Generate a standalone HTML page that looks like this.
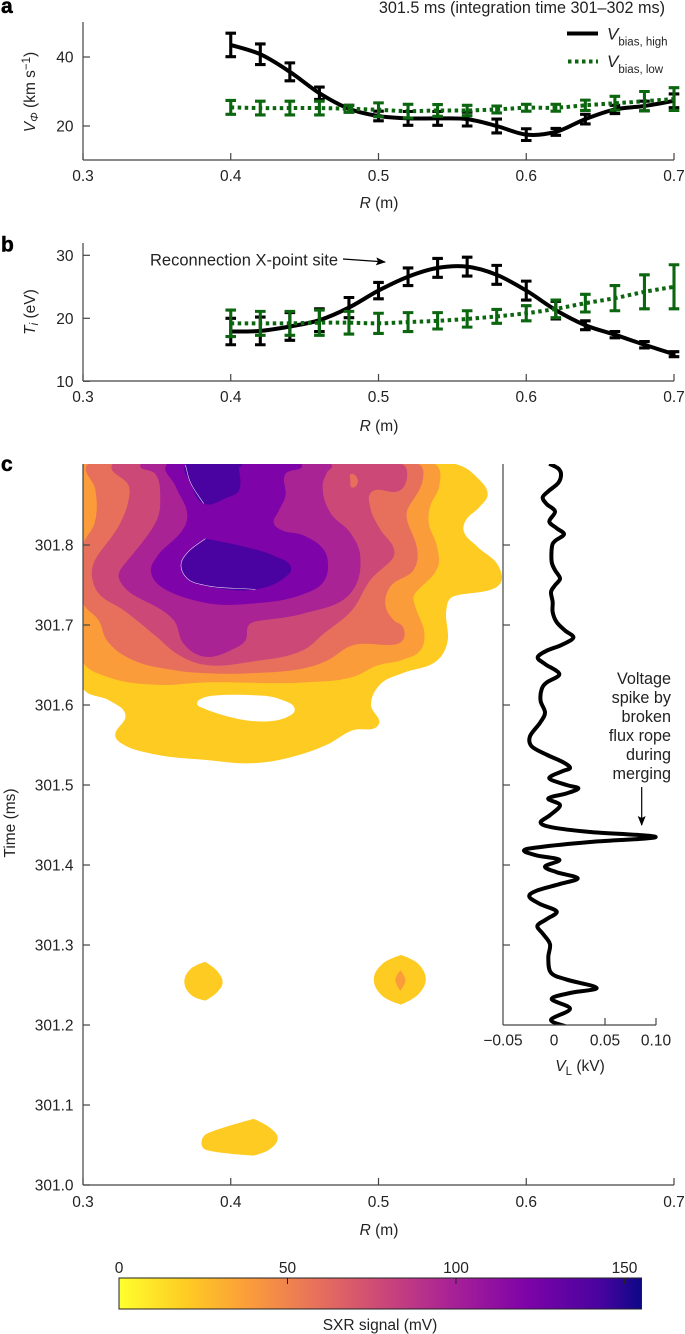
<!DOCTYPE html>
<html lang="en">
<head>
<meta charset="utf-8">
<title>Bias voltage profiles, SXR contour and loop voltage</title>
<style>
html,body{margin:0;padding:0;background:#fff;width:685px;height:1334px;overflow:hidden}
svg{display:block;font-family:"Liberation Sans",sans-serif;fill:#222}
text{font-size:15.5px}
.panel{font-size:21px;font-weight:bold;fill:#000;stroke:#000;stroke-width:.5px}
.big{font-size:16.2px}
.i{font-style:italic}
.sub{font-size:11.5px}
.v{font-size:17px;font-style:italic}
</style>
</head>
<body>
<svg id="root" xmlns="http://www.w3.org/2000/svg" width="685" height="1334" viewBox="0 0 685 1334">
  <defs>
    <linearGradient id="plasma" x1="0" x2="1" y1="0" y2="0">
      <stop offset="0" stop-color="#ffff2e"/>
      <stop offset="0.13" stop-color="#fecb23"/>
      <stop offset="0.25" stop-color="#fb9c3b"/>
      <stop offset="0.38" stop-color="#e7705c"/>
      <stop offset="0.5" stop-color="#cc4977"/>
      <stop offset="0.63" stop-color="#aa2395"/>
      <stop offset="0.78" stop-color="#7e03a8"/>
      <stop offset="0.92" stop-color="#4903a0"/>
      <stop offset="1" stop-color="#0d0887"/>
    </linearGradient>
    <clipPath id="clipC"><rect x="83" y="464" width="591" height="721"/></clipPath>
    <clipPath id="clipV"><rect x="503" y="464" width="182" height="561"/></clipPath>
    <marker id="arrowhead" markerWidth="10" markerHeight="8" refX="9" refY="4" orient="auto" markerUnits="userSpaceOnUse"><path d="M0 0L10 4L0 8L2 4Z" fill="#000"/></marker>
  </defs>

  <text class="panel" x="1" y="13">a</text>
  <text class="panel" x="1" y="251.5">b</text>
  <text class="panel" x="1" y="471">c</text>

  <text class="big" x="665" y="13" text-anchor="end">301.5 ms (integration time 301–302 ms)</text>

  <g id="panelC">
    <g id="contours" clip-path="url(#clipC)"></g>
  </g>
  <g id="panelV">
    <g id="voltageLine" clip-path="url(#clipV)"></g>
  </g>
  <g id="panelA"></g>
  <g id="panelB"></g>
  <g id="axes"></g>

  <text transform="translate(35,92) rotate(-90)" text-anchor="middle"><tspan class="i">V</tspan><tspan class="i sub" dy="3">Φ</tspan><tspan dy="-3"> (km s</tspan><tspan class="sub" dy="-5">−1</tspan><tspan dy="5">)</tspan></text>
  <text x="379" y="208" text-anchor="middle"><tspan class="i">R</tspan> (m)</text>

  <line x1="567" y1="33.5" x2="598" y2="33.5" stroke="#000" stroke-width="4"/>
  <text x="607" y="39.5"><tspan class="v">V</tspan><tspan class="sub" dy="6">bias, high</tspan></text>
  <line x1="568" y1="61.5" x2="598" y2="61.5" stroke="#0b660f" stroke-width="4" stroke-dasharray="3.5 3.5"/>
  <text x="607" y="67"><tspan class="v">V</tspan><tspan class="sub" dy="6">bias, low</tspan></text>

  <text transform="translate(35,312) rotate(-90)" text-anchor="middle"><tspan class="i">T</tspan><tspan class="i sub" dy="3">i</tspan><tspan dy="-3"> (eV)</tspan></text>
  <text x="379" y="431" text-anchor="middle"><tspan class="i">R</tspan> (m)</text>
  <text x="150" y="265.5" style="font-size:16.5px">Reconnection X-point site</text>
  <line x1="343" y1="259" x2="385" y2="262" stroke="#000" stroke-width="1.2" marker-end="url(#arrowhead)"/>

  <text transform="translate(15,823) rotate(-90)" text-anchor="middle">Time (ms)</text>
  <text x="379" y="1235" text-anchor="middle"><tspan class="i">R</tspan> (m)</text>
  <text x="580" y="1071" text-anchor="middle"><tspan class="i">V</tspan><tspan class="sub" dy="4">L</tspan><tspan dy="-4"> (kV)</tspan></text>

  <g text-anchor="end">
    <text class="big" x="671" y="684">Voltage</text>
    <text class="big" x="671" y="703">spike by</text>
    <text class="big" x="671" y="722">broken</text>
    <text class="big" x="671" y="741">flux rope</text>
    <text class="big" x="671" y="760">during</text>
    <text class="big" x="671" y="779">merging</text>
  </g>
  <line x1="641.7" y1="787" x2="641.7" y2="825" stroke="#000" stroke-width="1.2" marker-end="url(#arrowhead)"/>

  <rect x="119" y="1278" width="522.5" height="31" fill="url(#plasma)" stroke="#222" stroke-width="1"/>
  <g id="cbTicks"></g>
  <text x="380" y="1330" text-anchor="middle">SXR signal (mV)</text>
</svg>

<script>
// ---- profile data (panels a, b) ----
const radiusValues = [0.40,0.42,0.44,0.46,0.48,0.50,0.52,0.54,0.56,0.58,0.60,0.62,0.64,0.66,0.68,0.70];
const velocityHigh = [43.5,40.8,35.7,29.5,25,22.9,22.2,22.2,22,20,17.5,18.3,22,24.8,25.8,27.3];
const velocityHighErr = [3.4,3,2.6,1.8,1,1.4,2,2,2,2,1.7,1,1.4,1.2,1.4,2];
const velocityLow = [25.4,25.2,25.2,25.2,25,24.7,24.3,24.5,24.5,24.8,25.3,25.3,26,26.6,27.2,27.8];
const velocityLowErr = [2,2,2,2,1,2,2,1.7,1.5,1,1,1,1.5,2,2.8,3.3];
const tempHigh = [17.9,18,18.7,19.7,21.7,24.4,26.6,28,28.2,26.9,24.4,21.3,18.9,17.4,15.8,14.3];
const tempHighErr = [2.1,2.2,2.2,1.8,1.6,1.3,1.4,1.5,1.5,1.5,1.5,1.4,0.7,0.5,0.5,0.4];
const tempLow = [19.2,19.2,19.2,19.3,19.3,19.2,19.4,19.6,19.9,20.3,20.8,21.5,22.4,23.2,24.2,25];
const tempLowErr = [2.1,1.9,1.9,2,1.8,1.6,1.5,1.3,1.3,1.1,1.2,1.4,1.4,2,2.7,3.5];

// ---- tick labels ----
const radiusTicks = ["0.3","0.4","0.5","0.6","0.7"];
const velocityTicks = ["20","40"];
const tempTicks = ["10","20","30"];
const timeTicks = ["301.0","301.1","301.2","301.3","301.4","301.5","301.6","301.7","301.8"];
const voltageTicks = ["−0.05","0","0.05","0.10"];
const colorbarTicks = ["0","50","100","150"];

// ---- contour levels: [R (m), time (ms)] ----
const level1Contour = [[.3,301.9],[.5543,301.9],[.5667,301.8845],[.5739,301.8634],[.5690,301.8487],[.5588,301.8298],[.5577,301.8172],[.5667,301.7983],[.5814,301.7731],[.5825,301.7521],[.5486,301.7332],[.5459,301.7185],[.5464,301.6765],[.5396,301.6555],[.5159,301.6395],[.5013,301.6261],[.4949,301.6008],[.5001,301.5756],[.4821,301.5681],[.4652,301.5504],[.4426,301.5357],[.4155,301.5273],[.3817,301.5315],[.3501,301.5378],[.3275,301.5504],[.3219,301.5609],[.3287,301.5882],[.3185,301.6050],[.3,301.6206]];
const level1Hole = [[.3772,301.6017],[.3817,301.6092],[.4155,301.6122],[.4336,301.6071],[.4433,301.5945],[.4381,301.5849],[.4155,301.5798],[.3817,301.5958]];
const level2Contour = [[.3,301.9],[.5392,301.9],[.5412,301.8740],[.5351,301.8487],[.5340,301.8277],[.5396,301.7983],[.5403,301.7731],[.5238,301.7353],[.5250,301.7227],[.5311,301.6891],[.5283,301.6681],[.5159,301.6563],[.4990,301.6492],[.4832,301.6353],[.4494,301.6282],[.3817,301.6282],[.3501,301.6252],[.3162,301.6353],[.3,301.6534]];
const level3Contour = [[.3027,301.9],[.5283,301.9],[.5301,301.8824],[.5193,301.8424],[.5193,301.8319],[.5265,301.7899],[.5238,301.7689],[.5080,301.7479],[.5047,301.7248],[.5103,301.7059],[.5166,301.6975],[.5159,301.6798],[.4821,301.6744],[.4652,301.6555],[.4494,301.6458],[.4155,301.6399],[.3817,301.6399],[.3636,301.6429],[.3320,301.6576],[.3162,301.6807],[.3106,301.7059],[.3,301.7277],[.3,301.8004],[.3079,301.8277],[.3083,301.8697]];
const level4Contour = [[.3196,301.9],[.3309,301.8740],[.3309,301.8571],[.3253,301.8277],[.3072,301.7773],[.3061,301.7605],[.3106,301.7395],[.3275,301.7185],[.3501,301.6849],[.3636,301.6639],[.3817,301.6504],[.4155,301.6546],[.4494,301.6689],[.4629,301.6891],[.4821,301.7185],[.4945,301.7563],[.5103,301.7857],[.5103,301.7962],[.5013,301.8193],[.4945,301.8466],[.4949,301.8655],[.5148,301.8685],[.5193,301.8845],[.5171,301.9]];
const level4Hole = [[.4814,301.8887],[.4861,301.8794],[.4821,301.8718],[.4810,301.8803]];
const level5Contour = [[.3388,301.9],[.3490,301.8887],[.3523,301.8571],[.3501,301.8319],[.3253,301.7689],[.3241,301.7605],[.3298,301.7437],[.3614,301.7059],[.3681,301.6765],[.3817,301.6605],[.4020,301.6702],[.4099,301.6807],[.4121,301.6996],[.4155,301.7038],[.4494,301.7143],[.4810,301.7395],[.4877,301.7857],[.4810,301.8151],[.4674,301.8403],[.4622,301.8740],[.4652,301.8908],[.4685,301.9]];
const level6Contour = [[.3564,301.9],[.3625,301.8740],[.3704,301.8319],[.3501,301.7857],[.3460,301.7689],[.3501,301.7521],[.3817,301.7282],[.4155,301.7269],[.4494,301.7387],[.4629,301.7542],[.4658,301.7773],[.4629,301.7941],[.4494,301.8118],[.4336,301.8193],[.4291,301.8277],[.4324,301.8424],[.4370,301.8613],[.4370,301.8887],[.4482,301.9]];
const level7Upper = [[.3693,301.9],[.3727,301.8782],[.3817,301.8517],[.3975,301.8592],[.4054,301.8676],[.4058,301.8971],[.4076,301.9]];
const level7Lower = [[.3828,301.8080],[.4291,301.7866],[.4408,301.7710],[.4358,301.7584],[.4167,301.7445],[.3817,301.7500],[.3704,301.7584],[.3663,301.7752],[.3704,301.7899]];
const blobLeft = [[.3828,301.2789],[.3907,301.2677],[.3945,301.2532],[.3907,301.2408],[.3828,301.2305],[.3738,301.2367],[.3686,301.2532],[.3727,301.2698]];
const blobRight = [[.5153,301.2875],[.5272,301.2760],[.5320,301.2573],[.5272,301.2387],[.5153,301.2255],[.5024,301.2367],[.4968,301.2573],[.5024,301.2760]];
const blobRightCore = [[.5148,301.2685],[.5182,301.2561],[.5148,301.2429],[.5114,301.2561]];
const blobBottom = [[.4155,301.0827],[.4268,301.0712],[.4318,301.0588],[.4268,301.0451],[.4155,301.0368],[.3817,301.0455],[.3803,301.0546],[.3828,301.0629]];
const levelColors = ["#fecb23","#fb9c3b","#e7705c","#cc4977","#aa2395","#7e03a8","#4a02a0"];

// ---- loop voltage trace ----
const voltageTimes = [301.9015,301.8956,301.8881,301.8776,301.8671,301.8595,301.8512,301.8419,301.8294,301.8210,301.8134,301.8050,301.7979,301.7790,301.7686,301.7581,301.7497,301.7413,301.7287,301.7161,301.7036,301.6931,301.6843,301.6751,301.6679,301.6595,301.6512,301.6386,301.6281,301.6197,301.6050,301.5904,301.5778,301.5610,301.5484,301.5379,301.5283,301.5212,301.5168,301.5084,301.5000,301.4958,301.4895,301.4832,301.4748,301.4623,301.4530,301.4468,301.4413,301.4350,301.4287,301.4224,301.4182,301.4119,301.4065,301.3981,301.3910,301.3834,301.3763,301.3679,301.3604,301.3512,301.3419,301.3323,301.3239,301.3134,301.3008,301.2841,301.2652,301.2568,301.2463,301.2400,301.2325,301.2203,301.2065,301.1981];
const voltageValues = [-.0046,.0042,.0069,.0042,-.0056,-.0111,-.0072,.0010,-.0046,.0026,.0098,.0010,-.0020,-.0023,.0010,.0059,.0010,-.0029,-.0013,-.0013,.0026,.0108,.0190,.0075,-.0072,-.0160,-.0088,.0052,-.0072,-.0121,-.0131,-.0088,-.0137,-.0235,-.0219,-.0072,.0092,.0157,.0075,-.0046,.0124,.0239,.0124,-.0056,.0059,-.0039,-.0131,-.0007,.0353,.0997,.0353,-.0137,-.0294,-.0170,.0052,-.0088,.0026,.0232,.0059,-.0170,-.0242,-.0137,.0026,-.0072,-.0163,-.0105,-.0039,-.0056,-.0029,.0124,.0418,.0157,-.0023,.0157,-.0029,.0118];

// ---- axis functions ----
const xR = r => 83 + (r - 0.3) * 1477.5;
const yVel = v => 126 + (20 - v) * 3.45;
const yTemp = v => 318.3 + (20 - v) * 6.3;
const yTime = t => 1185 - (t - 301) * 800;
const xVolt = v => 554 + v * 1020;
const xBar = v => 119 + v * 3.37;

const NS = 'http://www.w3.org/2000/svg';
function mk(parent, tag, attrs, text) {
  const el = document.createElementNS(NS, tag);
  for (const k in attrs) el.setAttribute(k, attrs[k]);
  if (text !== undefined) el.textContent = text;
  parent.appendChild(el);
  return el;
}
// Open Catmull-Rom curve, which keeps sharp peaks such as the voltage spike.
function catmull(pts) {
  const n = pts.length, at = i => pts[Math.max(0, Math.min(n - 1, i))], k = 1 / 6;
  let d = 'M' + pts[0][0].toFixed(2) + ' ' + pts[0][1].toFixed(2);
  for (let i = 0; i < n - 1; i++) {
    const p0 = at(i - 1), p1 = at(i), p2 = at(i + 1), p3 = at(i + 2);
    d += 'C' + (p1[0] + (p2[0] - p0[0]) * k).toFixed(2) + ' ' + (p1[1] + (p2[1] - p0[1]) * k).toFixed(2) + ' ' +
         (p2[0] - (p3[0] - p1[0]) * k).toFixed(2) + ' ' + (p2[1] - (p3[1] - p1[1]) * k).toFixed(2) + ' ' +
         p2[0].toFixed(2) + ' ' + p2[1].toFixed(2);
  }
  return d;
}
// Contour curve with handles limited by neighbouring segments; the listed vertices stay pointed.
function smooth(pts, closed, sharp) {
  const n = pts.length, pointed = sharp || [];
  const wrap = i => (i + n) % n;
  const at = i => closed ? pts[wrap(i)] : pts[Math.max(0, Math.min(n - 1, i))];
  const dist = (a, b) => Math.hypot(b[0] - a[0], b[1] - a[1]);
  const tangent = i => {
    const a = at(i - 1), b = at(i), c = at(i + 1);
    const l1 = dist(a, b) || 1, l2 = dist(b, c) || 1;
    const tx = (b[0] - a[0]) / l1 + (c[0] - b[0]) / l2, ty = (b[1] - a[1]) / l1 + (c[1] - b[1]) / l2;
    const m = Math.hypot(tx, ty) || 1;
    return [tx / m, ty / m];
  };
  let d = 'M' + pts[0][0].toFixed(2) + ' ' + pts[0][1].toFixed(2);
  const end = closed ? n : n - 1;
  for (let i = 0; i < end; i++) {
    const p0 = at(i - 1), p1 = at(i), p2 = at(i + 1), p3 = at(i + 2);
    const len = dist(p1, p2), t1 = tangent(i), t2 = tangent(i + 1);
    const h1 = pointed.includes(wrap(i)) ? 0 : 0.36 * Math.min(len, 2.5 * (dist(p0, p1) || len));
    const h2 = pointed.includes(wrap(i + 1)) ? 0 : 0.36 * Math.min(len, 2.5 * (dist(p2, p3) || len));
    d += 'C' + (p1[0] + t1[0] * h1).toFixed(2) + ' ' + (p1[1] + t1[1] * h1).toFixed(2) + ' ' +
         (p2[0] - t2[0] * h2).toFixed(2) + ' ' + (p2[1] - t2[1] * h2).toFixed(2) + ' ' +
         p2[0].toFixed(2) + ' ' + p2[1].toFixed(2);
  }
  return d + (closed ? 'Z' : '');
}

// ---- profile series ----
function drawSeries(parent, ys, errs, yFn, color, dashed, name) {
  ys.forEach((v, i) => {
    const x = xR(radiusValues[i]), top = yFn(v + errs[i]), bot = yFn(v - errs[i]);
    const g = mk(parent, 'g', {stroke: color, 'stroke-width': 3.1, fill: 'none'});
    
    
    mk(g, 'path', {d: 'M' + x + ' ' + top + 'V' + bot + 'M' + (x - 5.3) + ' ' + top + 'H' + (x + 5.3) + 'M' + (x - 5.3) + ' ' + bot + 'H' + (x + 5.3)});
  });
  const attrs = {d: catmull(ys.map((v, i) => [xR(radiusValues[i]), yFn(v)])), fill: 'none', stroke: color, 'stroke-width': 4};
  if (dashed) attrs['stroke-dasharray'] = '3.5 3.5';
  const line = mk(parent, 'path', attrs);
  
  
}
const panelA = document.getElementById('panelA');
const panelB = document.getElementById('panelB');
drawSeries(panelA, velocityHigh, velocityHighErr, yVel, '#000', false, 'velocity-high');
drawSeries(panelA, velocityLow, velocityLowErr, yVel, '#0b660f', true, 'velocity-low');
drawSeries(panelB, tempHigh, tempHighErr, yTemp, '#000', false, 'temperature-high');
drawSeries(panelB, tempLow, tempLowErr, yTemp, '#0b660f', true, 'temperature-low');

// ---- contours ----
const contourGroup = document.getElementById('contours');
const toPx = c => c.map(p => [xR(p[0]), yTime(p[1])]);
function fillContour(pts, color, name, hole, sharp) {
  let d = smooth(toPx(pts), true, sharp);
  if (hole) d += smooth(toPx(hole), true);
  const el = mk(contourGroup, 'path', {d: d, fill: color, 'fill-rule': 'evenodd'});
  
  
}
fillContour(level1Contour, levelColors[0], 'contour-level-1', level1Hole);
fillContour(level2Contour, levelColors[1], 'contour-level-2');
fillContour(level3Contour, levelColors[2], 'contour-level-3');
fillContour(level4Contour, levelColors[3], 'contour-level-4');
fillContour(level4Hole, levelColors[2], 'contour-level-4-hole');
fillContour(level5Contour, levelColors[4], 'contour-level-5');
fillContour(level6Contour, levelColors[5], 'contour-level-6');
fillContour(level7Upper, levelColors[6], 'contour-level-7-upper');
fillContour(level7Lower, levelColors[6], 'contour-level-7-lower', null, [0]);
fillContour(blobLeft, levelColors[0], 'contour-blob-left', null, [0, 4]);
fillContour(blobRight, levelColors[0], 'contour-blob-right', null, [0, 4]);
fillContour(blobRightCore, levelColors[1], 'contour-blob-right-core', null, [0, 2]);
fillContour(blobBottom, levelColors[0], 'contour-blob-bottom', null, [0, 4]);

const edgeLower = mk(contourGroup, 'path', {d: smooth(toPx(level7Lower.slice(4).concat(level7Lower.slice(0, 1))), false), fill: 'none', stroke: '#fff', 'stroke-width': 0.6, 'stroke-opacity': 0.85});


const edgeUpper = mk(contourGroup, 'path', {d: smooth(toPx(level7Upper.slice(0, 3)), false), fill: 'none', stroke: '#fff', 'stroke-width': 0.6, 'stroke-opacity': 0.85});



// ---- voltage trace ----
const voltagePath = mk(document.getElementById('voltageLine'), 'path', {
  d: catmull(voltageTimes.map((t, i) => [xVolt(voltageValues[i]), yTime(t)])),
  fill: 'none', stroke: '#000', 'stroke-width': 4, 'stroke-linejoin': 'round'
});



// ---- axes ----
const axes = document.getElementById('axes');
const AX = {stroke: '#444', 'stroke-width': 1.2, fill: 'none'};
function axisLine(x1, y1, x2, y2, name) {
  const el = mk(axes, 'line', Object.assign({x1: x1, y1: y1, x2: x2, y2: y2}, AX));
  
  
}
function label(parent, x, y, anchor, str, name) {
  const el = mk(parent, 'text', {x: x, y: y, 'text-anchor': anchor}, str);
  
  
}
function xAxisR(baseY, labelY, name) {
  axisLine(83, baseY, 674, baseY, name + '-x-axis');
  radiusTicks.forEach(s => {
    const x = xR(parseFloat(s));
    axisLine(x, baseY, x, baseY - 7, name + '-x-tick');
    label(axes, x, labelY, 'middle', s, name + '-x-tick-label');
  });
}
function yAxisValues(ticks, fn, topY, botY, name) {
  axisLine(83, topY, 83, botY, name + '-y-axis');
  ticks.forEach(s => {
    const y = fn(parseFloat(s));
    axisLine(83, y, 90, y, name + '-y-tick');
    label(axes, 73.5, y + 5.5, 'end', s, name + '-y-tick-label');
  });
}
xAxisR(160, 181, 'velocity');
yAxisValues(velocityTicks, yVel, 22, 160, 'velocity');
xAxisR(381, 402, 'temperature');
yAxisValues(tempTicks, yTemp, 243, 381, 'temperature');
xAxisR(1185, 1207, 'contour');
yAxisValues(timeTicks, yTime, 464, 1185, 'contour');

axisLine(503, 464, 503, 1025, 'voltage-y-axis');
timeTicks.forEach(s => {
  const t = parseFloat(s);
  if (t > 301.2) {
    axisLine(503, yTime(t), 510, yTime(t), 'voltage-y-tick');
  }
});
axisLine(503, 1025, 656, 1025, 'voltage-x-axis');
voltageTicks.forEach(s => {
  const v = parseFloat(s.replace('−', '-'));
  if (v > 0) {
    axisLine(xVolt(v), 1025, xVolt(v), 1018, 'voltage-x-tick');
  }
  label(axes, xVolt(v), 1045.5, 'middle', s, 'voltage-x-tick-label');
});

// ---- colorbar ----
const cb = document.getElementById('cbTicks');
colorbarTicks.forEach(s => {
  const v = parseFloat(s), x = xBar(v);
  if (v > 0) {
    const t = mk(cb, 'line', {x1: x, y1: 1278, x2: x, y2: 1284, stroke: '#222', 'stroke-width': 1});
    
    
  }
  label(cb, x, 1273, 'middle', s, 'colorbar-tick-label');
});
</script>
</body>
</html>
